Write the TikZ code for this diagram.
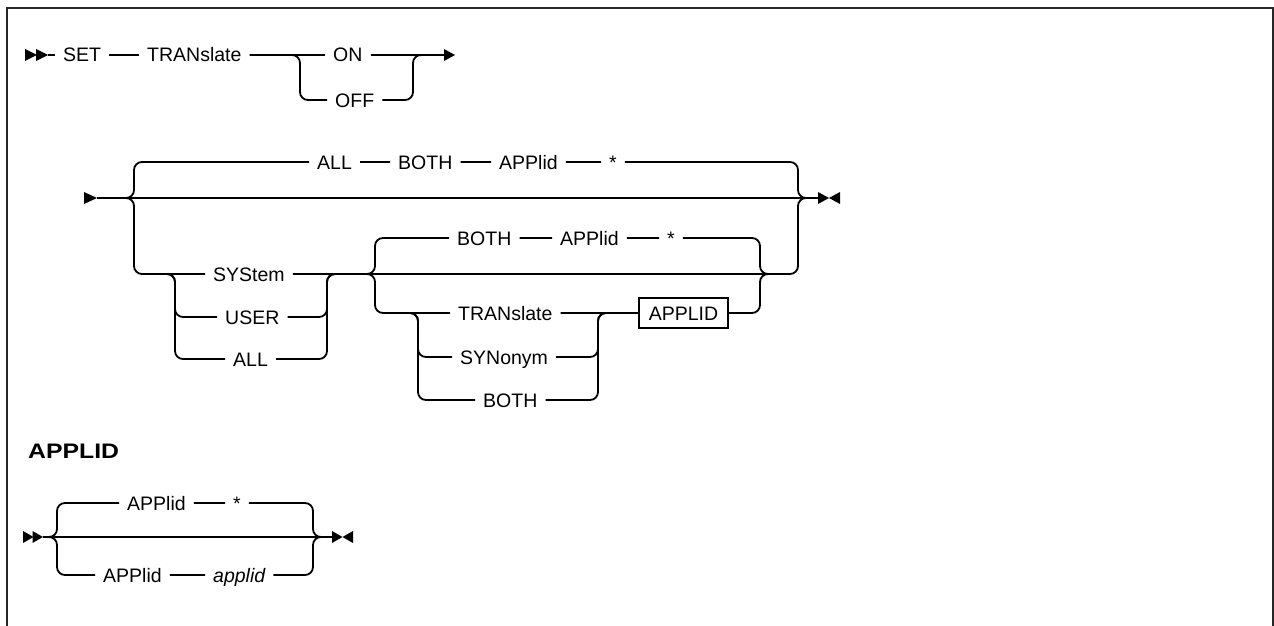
\documentclass[tikz,border=0pt]{standalone}
\usepackage{fontspec}
\setmainfont{Liberation Sans}
\usepackage{graphicx}
\usetikzlibrary{calc}
\begin{document}
\begin{tikzpicture}[x=1pt,y=-1pt,
  kw/.style={anchor=west,inner xsep=8pt,inner ysep=0pt,text height=14pt,text depth=0pt,font=\fontsize{19.5}{22}\selectfont},
  rr/.style={line width=1.8pt,rounded corners=8pt},
  boxed/.style={kw,draw,line width=1.6pt,inner xsep=10pt,inner ysep=8pt}]
\useasboundingbox (0,0) rectangle (1274,626);
\draw[line width=2pt,color=black!85] (7,626) -- (7,8) -- (1273,8) -- (1273,626);

% ---------- Row 1 ----------
\coordinate (s1) at (25,55);
\coordinate (a1) at (48,55);
\coordinate (j1L) at (300,55);
\coordinate (j1R) at (413,55);
\coordinate (e1) at (444,55);
\node[kw] (set) at (55,55) {SET};
\node[kw] (tr1) at (139,55) {TRANslate};
\node[kw] (on) at (325,55) {ON};
\node[kw] (off) at (327,100) {OFF};
\fill (s1) ++(0,-6) -- ++(12,6) -- ++(-12,6) -- cycle;
\fill (s1) ++(11,-6) -- ++(12,6) -- ++(-12,6) -- cycle;
\draw[rr] (a1) -- (set) -- (tr1) -- (on) -- (e1);
\draw[rr] (tr1) -| (off.west -| j1L) -- (off) -| (j1R) -- (e1);
\fill (e1) ++(0,-6) -- ++(11,6) -- ++(-11,6) -- cycle;

% ---------- Row 2 ----------
\coordinate (s2) at (84,198);
\coordinate (a2) at (97,198);
\coordinate (j2L) at (134,198);
\coordinate (j2R) at (798,198);
\coordinate (e2) at (818,198);
\coordinate (k1) at (175,274);
\coordinate (k2) at (327,274);
\coordinate (j4) at (375,274);
\coordinate (m) at (760,274);
\coordinate (p) at (418,313);
\coordinate (q) at (598,313);
\node[kw] (all1) at (309,162) {ALL};
\node[kw] (both1) at (390,162) {BOTH};
\node[kw] (app1) at (491,162) {APPlid};
\node[kw] (star1) at (601,162) {*};
\node[kw] (sys) at (205,274) {SYStem};
\node[kw] (user) at (217,317) {USER};
\node[kw] (all2) at (225,359) {ALL};
\node[kw] (both2) at (449,238) {BOTH};
\node[kw] (app2) at (552,238) {APPlid};
\node[kw] (star2) at (659,238) {*};
\node[kw] (tr2) at (450,313) {TRANslate};
\node[kw] (syn) at (452,357) {SYNonym};
\node[kw] (both3) at (475,400) {BOTH};
\node[boxed] (box) at (638,313) {APPLID};
\fill (s2) ++(0,-6) -- ++(13,6) -- ++(-13,6) -- cycle;
\draw[rr] (a2) -- (e2);
\draw[rr] (a2) -| (all1.west -| j2L) -- (all1) -- (both1) -- (app1) -- (star1) -| (j2R) -- (e2);
\draw[rr] (a2) -| (sys.west -| j2L) -- (sys) -| (j2R) -- (e2);
\draw[rr] ($(k1)+(-12,0)$) -| (user.west -| k1) -- (user) -| (k2) -- ($(k2)+(12,0)$);
\draw[rr] ($(k1)+(-12,0)$) -| (all2.west -| k1) -- (all2) -| (k2) -- ($(k2)+(12,0)$);
\draw[rr] ($(j4)+(-12,0)$) -| (both2.west -| j4) -- (both2) -- (app2) -- (star2) -| (m) -- ($(m)+(12,0)$);
\draw[rr] ($(j4)+(-12,0)$) -| (tr2.west -| j4) -- (tr2) -- (box) -| (m) -- ($(m)+(12,0)$);
\draw[rr] ($(p)+(-12,0)$) -| (syn.west -| p) -- (syn) -| (q) -- ($(q)+(12,0)$);
\draw[rr] ($(p)+(-12,0)$) -| (both3.west -| p) -- (both3) -| (q) -- ($(q)+(12,0)$);
\fill (e2) ++(0,-6) -- ++(11,6) -- ++(-11,6) -- cycle;
\fill ($(e2)+(22,0)$) ++(0,-6) -- ++(-11,6) -- ++(11,6) -- cycle;

% ---------- Row 3 ----------
\node[anchor=base west,inner sep=0pt,font=\bfseries\fontsize{21}{24}\selectfont] (hd) at (28,458) {\scalebox{1.18}[1]{APPLID}};
\coordinate (s3) at (23,537);
\coordinate (a3) at (43,537);
\coordinate (j5L) at (57,537);
\coordinate (j5R) at (313,537);
\coordinate (e3) at (332,537);
\node[kw] (app3) at (119,503) {APPlid};
\node[kw] (star3) at (225,503) {*};
\node[kw] (app4) at (95,575) {APPlid};
\node[kw,font=\itshape\fontsize{19.5}{22}\selectfont] (appl) at (205,575) {applid};
\fill (s3) ++(0,-6) -- ++(10.5,6) -- ++(-10.5,6) -- cycle;
\fill (s3) ++(9.5,-6) -- ++(10.5,6) -- ++(-10.5,6) -- cycle;
\draw[rr] (a3) -- (e3);
\draw[rr] (a3) -| (app3.west -| j5L) -- (app3) -- (star3) -| (j5R) -- (e3);
\draw[rr] (a3) -| (app4.west -| j5L) -- (app4) -- (appl) -| (j5R) -- (e3);
\fill (e3) ++(0,-6) -- ++(10.5,6) -- ++(-10.5,6) -- cycle;
\fill ($(e3)+(21,0)$) ++(0,-6) -- ++(-10.5,6) -- ++(10.5,6) -- cycle;
\end{tikzpicture}
\end{document}
